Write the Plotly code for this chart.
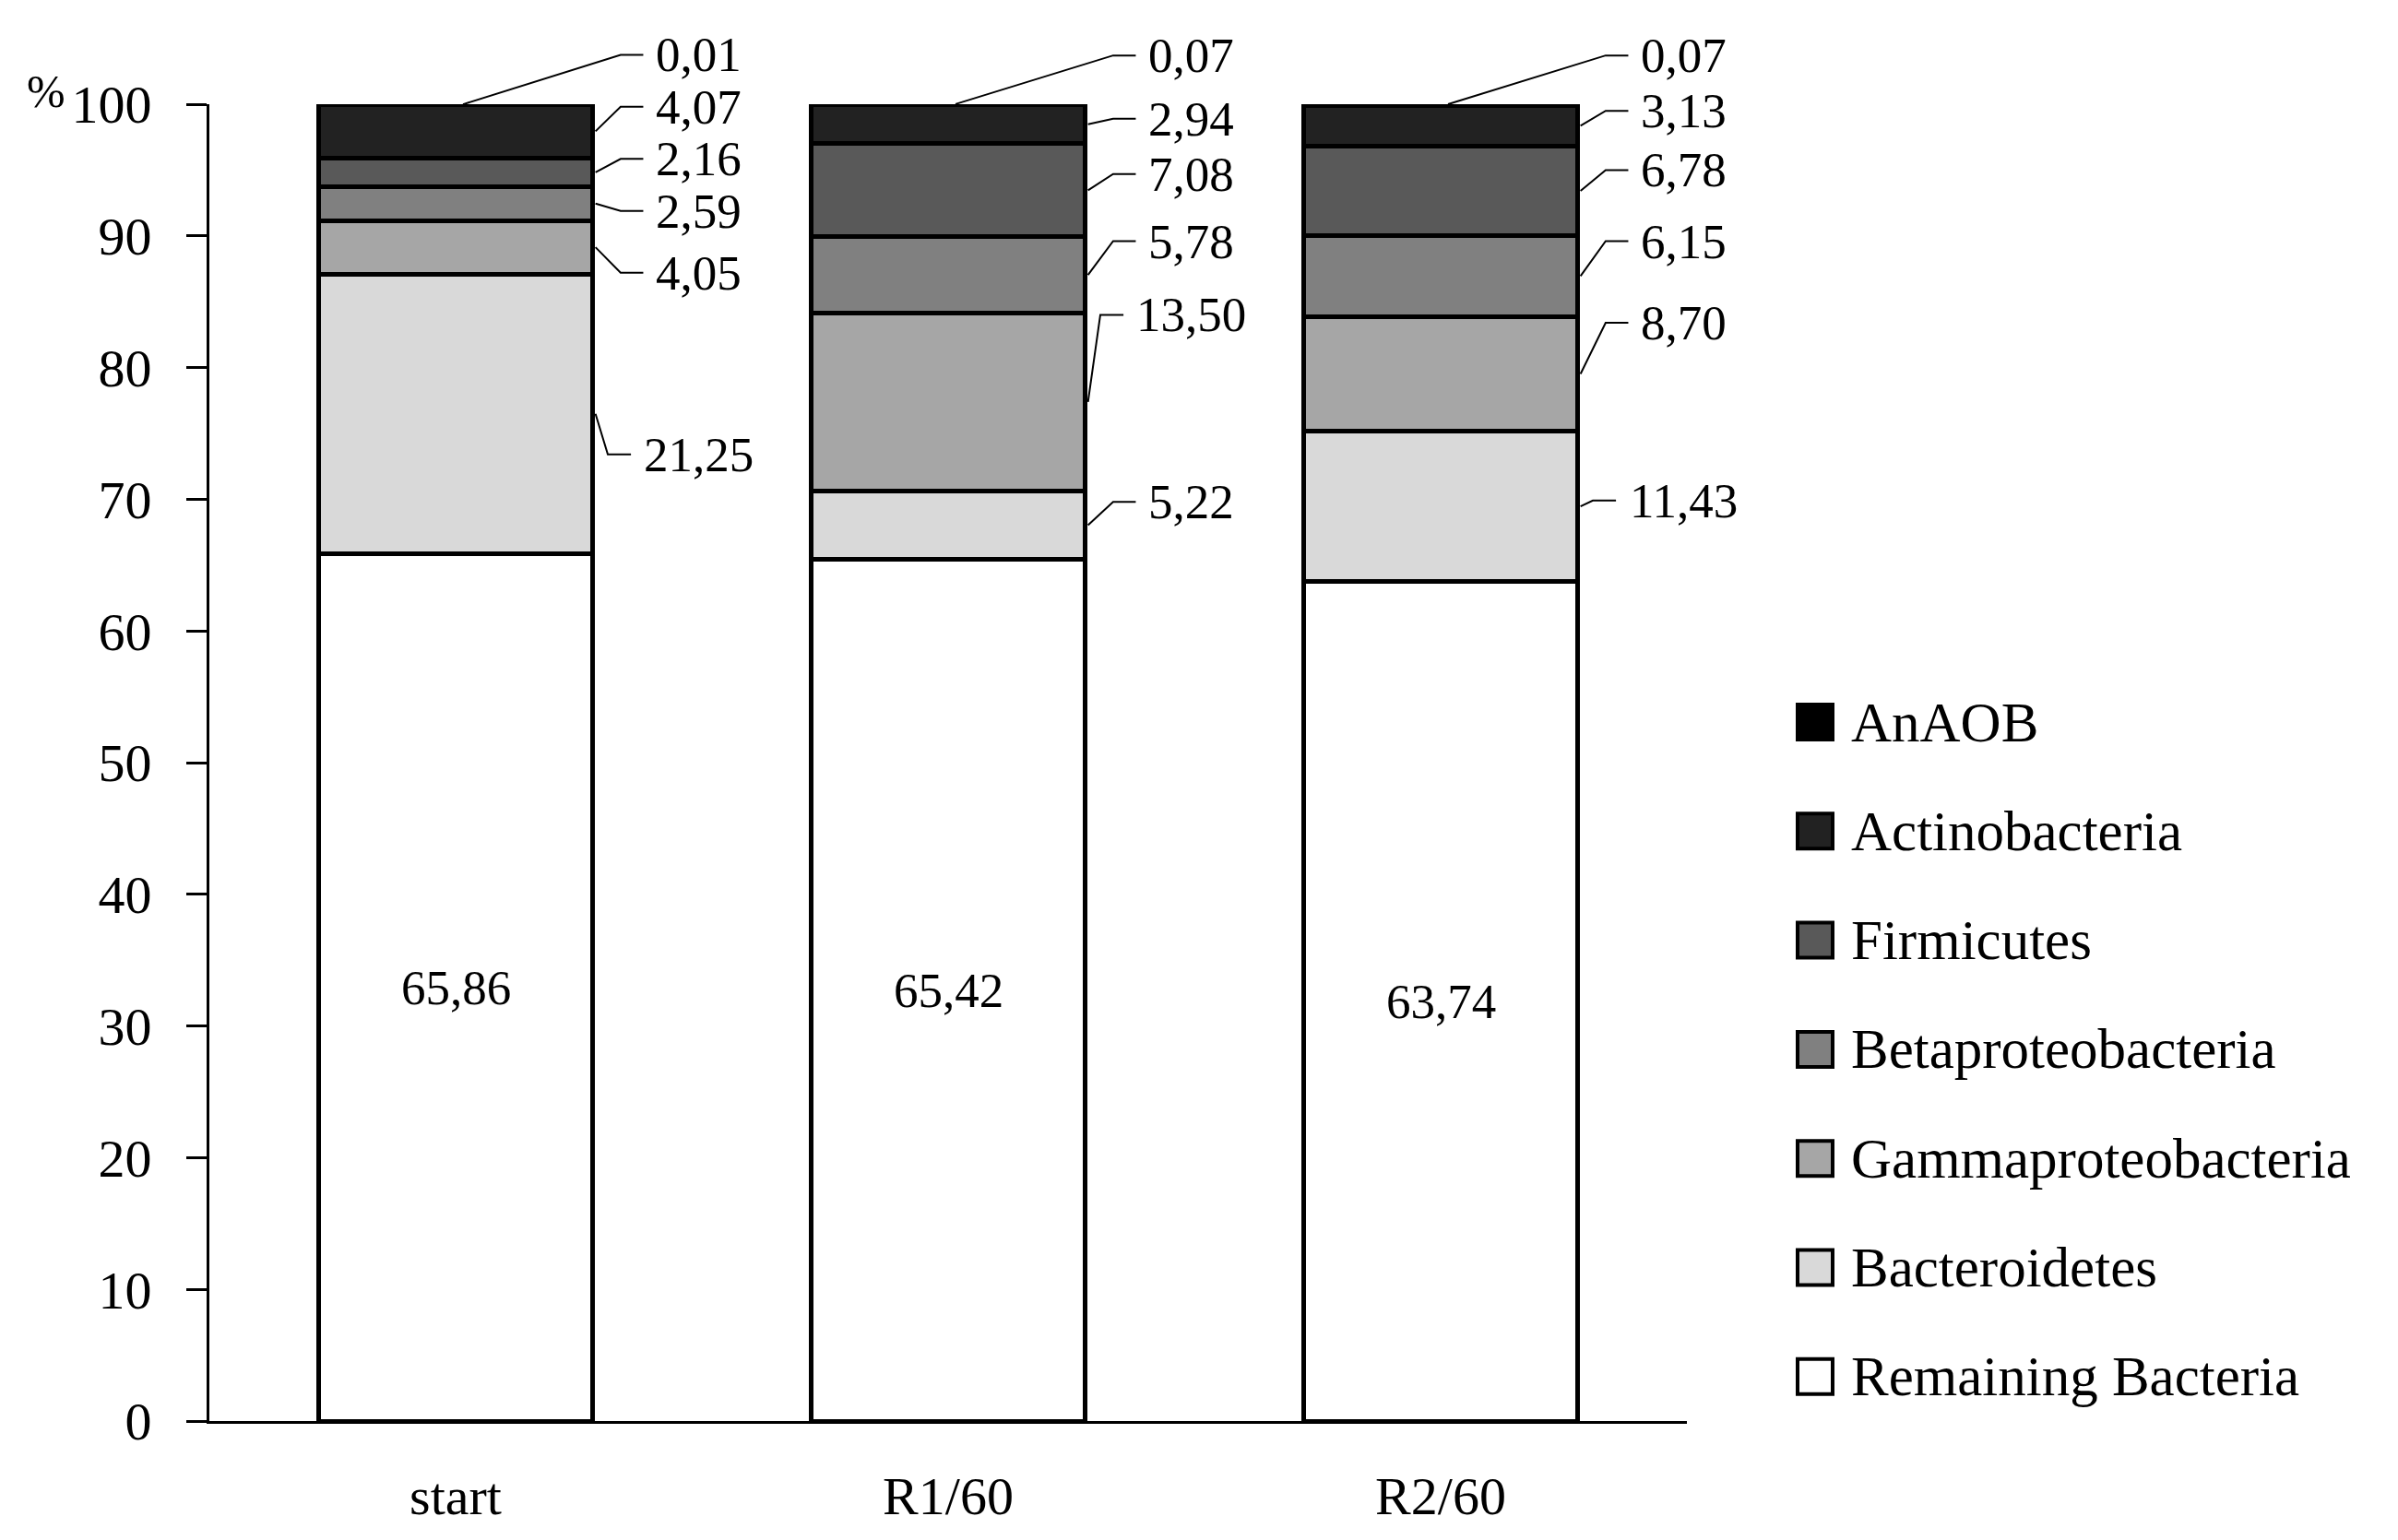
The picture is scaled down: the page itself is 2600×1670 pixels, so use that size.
import plotly.graph_objects as go

# ---------------- data ----------------
categories = ["start", "R1/60", "R2/60"]
series_names = ["Remaining Bacteria", "Bacteroidetes", "Gammaproteobacteria",
                "Betaproteobacteria", "Firmicutes", "Actinobacteria", "AnAOB"]
remaining = [65.86, 65.42, 63.74]
bacteroidetes = [21.25, 5.22, 11.43]
gammaproteobacteria = [4.05, 13.50, 8.70]
betaproteobacteria = [2.59, 5.78, 6.15]
firmicutes = [2.16, 7.08, 6.78]
actinobacteria = [4.07, 2.94, 3.13]
anaob = [0.01, 0.07, 0.07]
series_values = [remaining, bacteroidetes, gammaproteobacteria,
                 betaproteobacteria, firmicutes, actinobacteria, anaob]
y_ticks = [0, 10, 20, 30, 40, 50, 60, 70, 80, 90, 100]

# ---------------- styles / layout ----------------
colors = ["#ffffff", "#d9d9d9", "#a6a6a6", "#808080", "#595959", "#222222", "#000000"]
# vertical positions (in % units) of the outside value labels (layout only)
label_y = {
    "Bacteroidetes": [73.4, 69.8, 69.9],
    "Gammaproteobacteria": [87.2, 84.0, 83.4],
    "Betaproteobacteria": [91.9, 89.6, 89.6],
    "Firmicutes": [95.85, 94.7, 95.0],
    "Actinobacteria": [99.8, 98.9, 99.5],
    "AnAOB": [103.75, 103.7, 103.7],
}
FONT = "Liberation Serif"
W, H = 2600, 1670
OFF = 8  # page body margin shifts the figure; compensate
ML, MR, MT, MB = 227 - OFF, 771 + OFF, 113 - OFF, 129 + OFF
X_RANGE = [-0.5, 2.5]
Y_RANGE = [0, 100]
BW = 0.558
xs = list(range(len(categories)))

def xp(x):
    return (x - X_RANGE[0]) / (X_RANGE[1] - X_RANGE[0])

def yp(y):
    return (y - Y_RANGE[0]) / (Y_RANGE[1] - Y_RANGE[0])

fig = go.Figure()
for name, vals, col in zip(series_names, series_values, colors):
    fig.add_trace(go.Bar(
        x=xs, y=vals, name=name, width=BW, cliponaxis=False,
        marker=dict(color=col, line=dict(color="black", width=5)),
        showlegend=False, hoverinfo="name+y",
    ))

def fmt(v):
    return f"{v:.2f}".replace(".", ",")

annotations = []
shapes = []
LABEL_FONT = dict(family=FONT, size=53, color="black")

# inside labels for remaining bacteria
for i, v in enumerate(remaining):
    annotations.append(dict(x=xs[i], y=v / 2, xref="x", yref="y", text=fmt(v),
                            showarrow=False, font=LABEL_FONT))

# outside labels with leader lines (paper coords so they may sit above 100 %)
cum = list(remaining)
for name, vals in zip(series_names[1:], series_values[1:]):
    for i, v in enumerate(vals):
        base = cum[i]
        top = base + v
        right = xs[i] + BW / 2
        txt = fmt(v)
        ly = label_y[name][i]
        if len(txt) >= 5:
            elbow, end = 0.030, 0.077
        else:
            elbow, end = 0.056, 0.102
        if name == "AnAOB":
            sx, sy = xs[i] + 0.015, top
        else:
            sx, sy = right + 0.005, base + v / 2
        path = (f"M {xp(sx)},{yp(sy)} L {xp(right + elbow)},{yp(ly)} "
                f"L {xp(right + end)},{yp(ly)}")
        shapes.append(dict(type="path", xref="paper", yref="paper", path=path,
                           line=dict(color="black", width=2)))
        annotations.append(dict(x=xp(right + 0.215), y=yp(ly), xref="paper", yref="paper",
                                text=txt, showarrow=False, xanchor="center",
                                yanchor="middle", font=LABEL_FONT))
    cum = [c + v for c, v in zip(cum, vals)]

# manual legend (top to bottom: AnAOB ... Remaining Bacteria)
pw, ph = W - ML - MR, H - MT - MB
def px2paper(px, py):
    # px, py are target positions in the final screenshot
    return (px - OFF - ML) / pw, (H - MB - (py - OFF)) / ph

leg_x0, leg_size, leg_text_x = 1949, 38, 2005
leg_y0, leg_dy = 783, 118.3
for k, (name, col) in enumerate(zip(series_names[::-1], colors[::-1])):
    cy = leg_y0 + k * leg_dy
    x0, y0 = px2paper(leg_x0, cy + leg_size / 2)
    x1, y1 = px2paper(leg_x0 + leg_size, cy - leg_size / 2)
    shapes.append(dict(type="rect", xref="paper", yref="paper", x0=x0, y0=y0, x1=x1, y1=y1,
                       fillcolor=col, line=dict(color="black", width=4)))
    tx, ty = px2paper(leg_text_x, cy)
    annotations.append(dict(x=tx, y=ty, xref="paper", yref="paper", text=name,
                            showarrow=False, xanchor="left", yanchor="middle",
                            font=dict(family=FONT, size=61, color="black")))

# % unit label
ux, uy = px2paper(50, 99)
annotations.append(dict(x=ux, y=uy, xref="paper", yref="paper", text="%",
                        showarrow=False, xanchor="center", yanchor="middle",
                        font=dict(family=FONT, size=50, color="black")))

fig.update_layout(
    width=W, height=H,
    margin=dict(l=ML, r=MR, t=MT, b=MB),
    barmode="stack",
    plot_bgcolor="white", paper_bgcolor="white",
    annotations=annotations, shapes=shapes,
    xaxis=dict(range=X_RANGE, tickvals=xs, ticktext=categories,
               showline=True, linecolor="black", linewidth=3, ticks="",
               showgrid=False, zeroline=False, ticklabelstandoff=28,
               tickfont=dict(family=FONT, size=58, color="black")),
    yaxis=dict(range=Y_RANGE, tickvals=y_ticks, showline=True, linecolor="black",
               linewidth=3, ticks="outside", ticklen=22, tickwidth=3, tickcolor="black",
               showgrid=False, zeroline=False, ticklabelstandoff=26,
               tickfont=dict(family=FONT, size=58, color="black")),
)

fig.write_html("out.html")
